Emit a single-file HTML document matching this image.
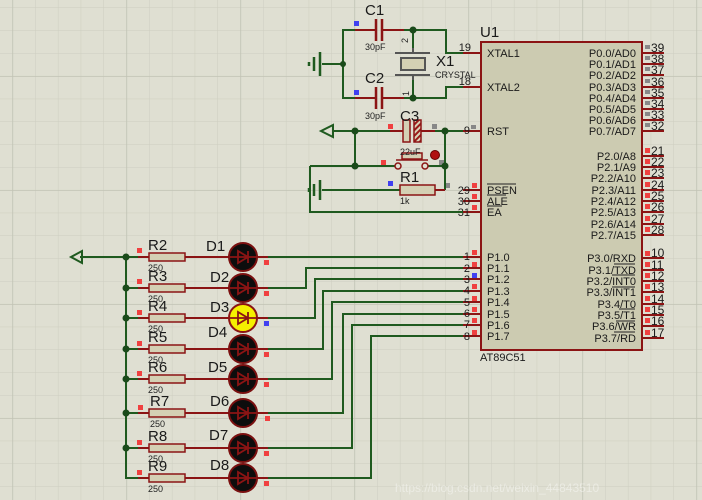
<!DOCTYPE html>
<html><head><meta charset="utf-8"><style>
html,body{margin:0;padding:0;background:#dfdfd2;}
svg{display:block;font-family:"Liberation Sans",sans-serif;}
.w{stroke:#1f5a1f;stroke-width:2;fill:none;}
.r{stroke:#8b1414;stroke-width:2;fill:none;}
.t{fill:#1a1a1a;font-size:11px;}
.n{fill:#1a1a1a;font-size:12px;}
.s{fill:#222;font-size:9px;}
.b{fill:#1a1a1a;font-size:15px;}
</style></head><body>
<svg width="702" height="500" viewBox="0 0 702 500" xmlns="http://www.w3.org/2000/svg">
<defs>
<pattern id="g" x="12.3" y="7.5" width="22.8" height="22.8" patternUnits="userSpaceOnUse">
<path d="M0,0V22.8M0,0H22.8" stroke="#cdcec0" stroke-width="1" fill="none"/></pattern>
<pattern id="G" x="12.3" y="76" width="114" height="114" patternUnits="userSpaceOnUse">
<path d="M0,0V114M0,0H114" stroke="#c2c3b5" stroke-width="1.5" fill="none"/></pattern>
<pattern id="h" width="4" height="4" patternUnits="userSpaceOnUse" patternTransform="rotate(45)">
<rect width="4" height="4" fill="#d8d4b8"/><rect width="2" height="4" fill="#9a1a1a"/></pattern>
</defs>
<rect width="702" height="500" fill="#dfdfd2"/>
<rect width="702" height="500" fill="url(#g)"/>
<rect width="702" height="500" fill="url(#G)"/>

<!-- chip -->
<rect x="481" y="42" width="161" height="308" fill="#cccbb1" stroke="#8b1414" stroke-width="2"/>
<g class="r">
<path d="M463,53H481M463,87H481M463,131H481M463,190H481M463,201H481M463,212H481"/>
<path d="M463,257H481M463,268H481M463,279H481M463,291H481M463,302H481M463,314H481M463,325H481M463,336H481"/>
<path d="M642,53H664M642,64H664M642,75H664M642,87H664M642,98H664M642,109H664M642,120H664M642,131H664"/>
<path d="M642,156H664M642,167H664M642,178H664M642,190H664M642,201H664M642,212H664M642,224H664M642,235H664"/>
<path d="M642,258H664M642,270H664M642,281H664M642,292H664M642,304H664M642,315H664M642,326H664M642,338H664"/>
</g>
<text x="480" y="37" class="b">U1</text>
<text x="480" y="361" class="t">AT89C51</text>
<g class="t">
<text x="487" y="57">XTAL1</text><text x="487" y="91">XTAL2</text><text x="487" y="135">RST</text>
<text x="487" y="194">PSEN</text><text x="487" y="205">ALE</text><text x="487" y="216">EA</text>
<text x="487" y="261">P1.0</text><text x="487" y="272">P1.1</text><text x="487" y="283">P1.2</text><text x="487" y="295">P1.3</text>
<text x="487" y="306">P1.4</text><text x="487" y="318">P1.5</text><text x="487" y="329">P1.6</text><text x="487" y="340">P1.7</text>
</g>
<path d="M487,184H516M487,195H506M487,206H502" stroke="#222" stroke-width="1"/>
<g class="t" text-anchor="end">
<text x="636" y="57">P0.0/AD0</text><text x="636" y="68">P0.1/AD1</text><text x="636" y="79">P0.2/AD2</text><text x="636" y="91">P0.3/AD3</text>
<text x="636" y="102">P0.4/AD4</text><text x="636" y="113">P0.5/AD5</text><text x="636" y="124">P0.6/AD6</text><text x="636" y="135">P0.7/AD7</text>
<text x="636" y="160">P2.0/A8</text><text x="636" y="171">P2.1/A9</text><text x="636" y="182">P2.2/A10</text><text x="636" y="194">P2.3/A11</text>
<text x="636" y="205">P2.4/A12</text><text x="636" y="216">P2.5/A13</text><text x="636" y="228">P2.6/A14</text><text x="636" y="239">P2.7/A15</text>
<text x="636" y="262">P3.0/RXD</text><text x="636" y="274">P3.1/TXD</text><text x="636" y="285">P3.2/INT0</text><text x="636" y="296">P3.3/INT1</text>
<text x="636" y="308">P3.4/T0</text><text x="636" y="319">P3.5/T1</text><text x="636" y="330">P3.6/WR</text><text x="636" y="342">P3.7/RD</text>
</g>
<path d="M614,264H635M612,275H635M612,287H635M619,309H635M616,321H635M614,332H635" stroke="#222" stroke-width="1"/>
<g class="n">
<text x="651" y="52">39</text><text x="651" y="63">38</text><text x="651" y="74">37</text><text x="651" y="86">36</text>
<text x="651" y="97">35</text><text x="651" y="108">34</text><text x="651" y="119">33</text><text x="651" y="130">32</text>
<text x="651" y="155">21</text><text x="651" y="166">22</text><text x="651" y="177">23</text><text x="651" y="189">24</text>
<text x="651" y="200">25</text><text x="651" y="211">26</text><text x="651" y="223">27</text><text x="651" y="234">28</text>
<text x="651" y="257">10</text><text x="651" y="269">11</text><text x="651" y="280">12</text><text x="651" y="291">13</text>
<text x="651" y="303">14</text><text x="651" y="314">15</text><text x="651" y="325">16</text><text x="651" y="337">17</text>
</g>
<g fill="#888">
<rect x="645" y="45" width="5" height="4"/><rect x="645" y="56" width="5" height="4"/><rect x="645" y="67" width="5" height="4"/><rect x="645" y="79" width="5" height="4"/>
<rect x="645" y="90" width="5" height="4"/><rect x="645" y="101" width="5" height="4"/><rect x="645" y="112" width="5" height="4"/><rect x="645" y="123" width="5" height="4"/>
<rect x="471" y="125" width="5" height="4"/><rect x="432" y="124" width="5" height="5"/><rect x="445" y="183" width="5" height="5"/><rect x="439" y="160" width="5" height="5"/>
</g>
<g fill="#f04040">
<rect x="645" y="148" width="5" height="5"/><rect x="645" y="159" width="5" height="5"/><rect x="645" y="170" width="5" height="5"/><rect x="645" y="182" width="5" height="5"/>
<rect x="645" y="193" width="5" height="5"/><rect x="645" y="204" width="5" height="5"/><rect x="645" y="216" width="5" height="5"/><rect x="645" y="227" width="5" height="5"/>
<rect x="645" y="251" width="5" height="5"/><rect x="645" y="262" width="5" height="5"/><rect x="645" y="273" width="5" height="5"/><rect x="645" y="284" width="5" height="5"/>
<rect x="645" y="296" width="5" height="5"/><rect x="645" y="307" width="5" height="5"/><rect x="645" y="318" width="5" height="5"/><rect x="645" y="330" width="5" height="5"/>
<rect x="472" y="183" width="5" height="5"/><rect x="472" y="194" width="5" height="5"/><rect x="472" y="205" width="5" height="5"/>
<rect x="472" y="250" width="5" height="5"/><rect x="472" y="262" width="5" height="5"/><rect x="472" y="284" width="5" height="5"/>
<rect x="472" y="296" width="5" height="5"/><rect x="472" y="307" width="5" height="5"/><rect x="472" y="318" width="5" height="5"/><rect x="472" y="330" width="5" height="5"/>
<rect x="388" y="124" width="5" height="5"/><rect x="381" y="160" width="5" height="5"/>
</g>
<g fill="#4040f0"><rect x="472" y="273" width="5" height="5"/><rect x="354" y="21" width="5" height="5"/><rect x="354" y="90" width="5" height="5"/><rect x="388" y="181" width="5" height="5"/><rect x="264" y="321" width="5" height="5"/></g>
<g class="t" text-anchor="end">
<text x="471" y="51">19</text><text x="471" y="85">18</text><text x="470" y="134">9</text>
<text x="470" y="194">29</text><text x="470" y="205">30</text><text x="470" y="216">31</text>
<text x="470" y="260">1</text><text x="470" y="272">2</text><text x="470" y="283">3</text><text x="470" y="294">4</text>
<text x="470" y="306">5</text><text x="470" y="317">6</text><text x="470" y="328">7</text><text x="470" y="340">8</text>
</g>

<!-- crystal section -->
<path class="w" d="M355,30H343V98H355M404,30H446V53H463M404,98H446V87H463M343,64H322M413,30V48M413,80V98"/>
<path class="r" d="M355,30H375M382,30H404M355,98H375M382,98H404"/>
<path d="M376,19V41M382,19V41M376,87V109M382,87V109" stroke="#8b1414" stroke-width="2.5"/>
<path d="M395,53H430M395,75H430M413,48V53M413,75V80" stroke="#555" stroke-width="2"/>
<rect x="401" y="58" width="24" height="12" fill="#d4d0b4" stroke="#555" stroke-width="2"/>
<path d="M320,52V76M314,57V71M309,62V66" stroke="#1f5a1f" stroke-width="2.5"/>
<circle cx="343" cy="64" r="3" fill="#1a4a1a"/><circle cx="413" cy="30" r="3.5" fill="#1a4a1a"/><circle cx="413" cy="98" r="3.5" fill="#1a4a1a"/>
<text x="365" y="15" class="b">C1</text><text x="365" y="50" class="s">30pF</text>
<text x="365" y="83" class="b">C2</text><text x="365" y="119" class="s">30pF</text>
<text x="436" y="66" class="b">X1</text><text x="435" y="78" class="s">CRYSTAL</text>
<text x="408" y="43" class="s" transform="rotate(-90 408 43)">2</text><text x="409" y="96" class="s" transform="rotate(-90 409 96)">1</text>

<!-- RST section -->
<path class="w" d="M333,131H390M425,131H463M355,131V166M310,166H395M428,166H445M445,131V190M322,190H400M310,166V212H463M445,190H440"/>
<path class="r" d="M390,131H403M421,131H435M435,190H445"/>
<path d="M321,131L333,125V137Z" fill="none" stroke="#1f5a1f" stroke-width="2"/>
<rect x="403" y="120" width="7" height="22" fill="#d4d0b4" stroke="#8b1414" stroke-width="1.5"/>
<rect x="414" y="120" width="7" height="22" fill="url(#h)" stroke="#8b1414" stroke-width="1.5"/>
<circle cx="398" cy="166" r="3" fill="#dfdfd2" stroke="#8b1414" stroke-width="1.5"/>
<circle cx="425" cy="166" r="3" fill="#dfdfd2" stroke="#8b1414" stroke-width="1.5"/>
<rect x="402" y="153" width="20" height="6" fill="#d4d0b4" stroke="#8b1414" stroke-width="1.5"/>
<path d="M396,160H428" stroke="#8b1414" stroke-width="1.5"/>
<circle cx="435" cy="155" r="4.5" fill="#b01010" stroke="#600" stroke-width="1"/>
<rect x="400" y="185" width="35" height="10" fill="#d4d0b4" stroke="#8b1414" stroke-width="1.5"/>
<path d="M320,180V200M314,184V196M309,188V192" stroke="#1f5a1f" stroke-width="2.5"/>
<circle cx="355" cy="131" r="3.5" fill="#1a4a1a"/><circle cx="445" cy="131" r="3.5" fill="#1a4a1a"/>
<circle cx="355" cy="166" r="3.5" fill="#1a4a1a"/><circle cx="445" cy="166" r="3.5" fill="#1a4a1a"/>
<text x="400" y="121" class="b">C3</text><text x="400" y="155" class="s">22uF</text>
<text x="400" y="182" class="b">R1</text><text x="400" y="204" class="s">1k</text>

<!-- LEDs -->
<path class="w" d="M80,257H126M126,257V478H138"/>
<path d="M71,257L82,251V263Z" fill="none" stroke="#1f5a1f" stroke-width="2"/>
<path class="w" d="M268,257H463M268,288H306V268H463M268,318H315V279H463M268,349H323V291H463M268,379H332V302H463M268,413H343V314H463M268,448H352V325H463M268,478H371V336H463"/>
<path class="w" d="M126,288H138M126,318H138M126,349H138M126,379H138M126,413H138M126,448H138M126,257H138"/>
<g fill="#1a4a1a"><circle cx="126" cy="257" r="3.5"/><circle cx="126" cy="288" r="3.5"/><circle cx="126" cy="318" r="3.5"/><circle cx="126" cy="349" r="3.5"/><circle cx="126" cy="379" r="3.5"/><circle cx="126" cy="413" r="3.5"/><circle cx="126" cy="448" r="3.5"/></g>
<g class="r">
<path d="M138,257H149M185,257H229M257,257H268M138,288H149M185,288H229M257,288H268M138,318H149M185,318H229M257,318H268M138,349H149M185,349H229M257,349H268"/>
<path d="M138,379H149M185,379H229M257,379H268M138,413H149M185,413H229M257,413H268M138,448H149M185,448H229M257,448H268M138,478H149M185,478H229M257,478H268"/>
</g>
<g fill="#d4d0b4" stroke="#8b1414" stroke-width="1.5">
<rect x="149" y="253" width="36" height="8"/><rect x="149" y="284" width="36" height="8"/><rect x="149" y="314" width="36" height="8"/><rect x="149" y="345" width="36" height="8"/>
<rect x="149" y="375" width="36" height="8"/><rect x="149" y="409" width="36" height="8"/><rect x="149" y="444" width="36" height="8"/><rect x="149" y="474" width="36" height="8"/>
</g>
<g fill="#0d0d0d" stroke="#7a1010" stroke-width="2">
<circle cx="243" cy="257" r="14"/><circle cx="243" cy="288" r="14"/><circle cx="243" cy="349" r="14"/>
<circle cx="243" cy="379" r="14"/><circle cx="243" cy="413" r="14"/><circle cx="243" cy="448" r="14"/><circle cx="243" cy="478" r="14"/>
</g>
<circle cx="243" cy="318" r="14" fill="#f5f000" stroke="#8b1414" stroke-width="2"/>
<g fill="none" stroke="#8b1414" stroke-width="1.8">
<path d="M229,257H257M238,251V263L248,257Z M248,251V263"/>
<path d="M229,288H257M238,282V294L248,288Z M248,282V294"/>
<path d="M229,318H257M238,312V324L248,318Z M248,312V324"/>
<path d="M229,349H257M238,343V355L248,349Z M248,343V355"/>
<path d="M229,379H257M238,373V385L248,379Z M248,373V385"/>
<path d="M229,413H257M238,407V419L248,413Z M248,407V419"/>
<path d="M229,448H257M238,442V454L248,448Z M248,442V454"/>
<path d="M229,478H257M238,472V484L248,478Z M248,472V484"/>
</g>
<g fill="#f04040">
<rect x="137" y="248" width="5" height="5"/><rect x="137" y="279" width="5" height="5"/><rect x="137" y="310" width="5" height="5"/><rect x="137" y="341" width="5" height="5"/>
<rect x="137" y="371" width="5" height="5"/><rect x="138" y="405" width="5" height="5"/><rect x="137" y="440" width="5" height="5"/><rect x="137" y="470" width="5" height="5"/>
<rect x="264" y="260" width="5" height="5"/><rect x="264" y="291" width="5" height="5"/><rect x="264" y="352" width="5" height="5"/>
<rect x="264" y="382" width="5" height="5"/><rect x="265" y="416" width="5" height="5"/><rect x="264" y="451" width="5" height="5"/><rect x="264" y="481" width="5" height="5"/>
</g>
<g class="b">
<text x="148" y="250">R2</text><text x="148" y="281">R3</text><text x="148" y="311">R4</text><text x="148" y="342">R5</text>
<text x="148" y="372">R6</text><text x="150" y="406">R7</text><text x="148" y="441">R8</text><text x="148" y="471">R9</text>
<text x="206" y="251">D1</text><text x="210" y="282">D2</text><text x="210" y="312">D3</text><text x="208" y="337">D4</text>
<text x="208" y="372">D5</text><text x="210" y="406">D6</text><text x="209" y="440">D7</text><text x="210" y="470">D8</text>
</g>
<g class="s">
<text x="148" y="271">250</text><text x="148" y="302">250</text><text x="148" y="332">250</text><text x="148" y="363">250</text>
<text x="148" y="393">250</text><text x="150" y="427">250</text><text x="148" y="462">250</text><text x="148" y="492">250</text>
</g>
<text x="395" y="492" fill="#ffffff" fill-opacity="0.4" font-size="12">https://blog.csdn.net/weixin_44843510</text>
</svg>
</body></html>
